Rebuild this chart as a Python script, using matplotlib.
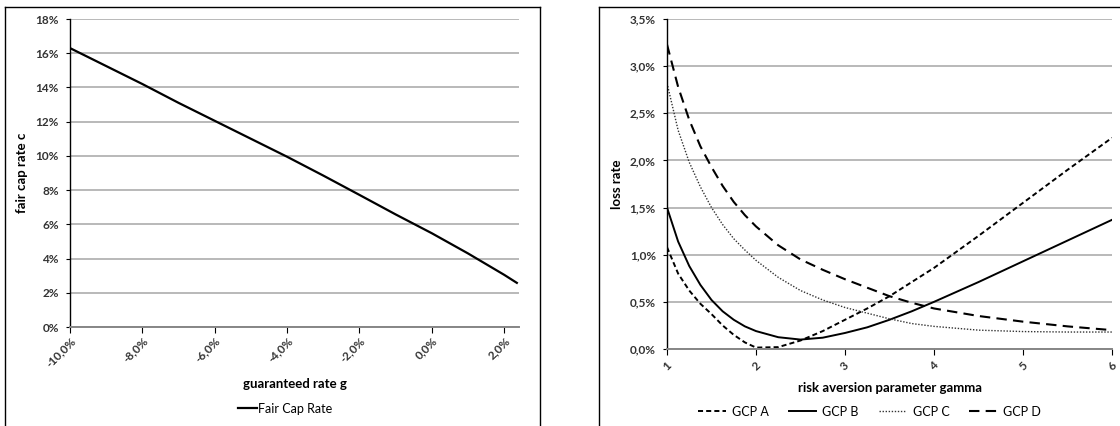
import matplotlib
matplotlib.use("Agg")
import matplotlib.pyplot as plt
from matplotlib.lines import Line2D
from matplotlib.ticker import FuncFormatter, MultipleLocator

plt.rcParams['font.family'] = ['Lato', 'DejaVu Sans']

# fair cap rate vs guaranteed rate (both in %)
guar_rate = [-10, -9, -8, -7, -6, -5, -4, -3, -2, -1, 0, 1, 2, 2.35]
cap_rate = [16.3, 15.25, 14.2, 13.1, 12.05, 11.0, 9.95, 8.85, 7.72, 6.58, 5.48, 4.3, 3.05, 2.58]

# loss rate vs risk aversion gamma (in %)
gamma = [1, 1.125, 1.25, 1.375, 1.5, 1.625, 1.75, 1.875, 2, 2.25, 2.5, 2.75, 3,
         3.25, 3.5, 3.75, 4, 4.5, 5, 5.5, 6]
gcp_a = [1.08, 0.80, 0.62, 0.48, 0.37, 0.25, 0.15, 0.07, 0.015, 0.02, 0.09, 0.19, 0.31,
         0.43, 0.56, 0.71, 0.86, 1.2, 1.55, 1.9, 2.24]
gcp_b = [1.5, 1.14, 0.88, 0.68, 0.52, 0.40, 0.31, 0.24, 0.19, 0.125, 0.10, 0.12, 0.17,
         0.23, 0.31, 0.40, 0.50, 0.71, 0.93, 1.15, 1.37]
gcp_c = [2.82, 2.32, 1.98, 1.72, 1.5, 1.32, 1.17, 1.05, 0.94, 0.76, 0.62, 0.52, 0.44,
         0.38, 0.32, 0.27, 0.24, 0.20, 0.185, 0.18, 0.18]
gcp_d = [3.23, 2.78, 2.43, 2.15, 1.93, 1.73, 1.56, 1.42, 1.30, 1.10, 0.95, 0.84, 0.74,
         0.65, 0.56, 0.49, 0.43, 0.35, 0.29, 0.24, 0.20]

W, H = 1120, 426
fig = plt.figure(figsize=(W / 100, H / 100), dpi=100)


def fx(px):
    return px / W


def fy(py):
    return 1 - py / H


# chart area borders
for xs, ys in [([5, 5], [7, 440]), ([5, 540], [7, 7]), ([540, 540], [7, 440]),
               ([599, 599], [7, 440]), ([599, 1130], [7, 7])]:
    fig.add_artist(Line2D([fx(x) for x in xs], [fy(y) for y in ys],
                          color='black', lw=1.0))

grid_col = '#a6a6a6'


def style_axes(ax):
    ax.grid(axis='y', color=grid_col, lw=1.1)
    ax.set_axisbelow(True)
    for s in ['top', 'right']:
        ax.spines[s].set_visible(False)
    ax.spines['left'].set_color('black')
    ax.spines['left'].set_linewidth(1.0)
    ax.spines['bottom'].set_color('#868686')
    ax.spines['bottom'].set_linewidth(1.4)
    ax.tick_params(axis='y', length=3, width=0.8, color='black', pad=5)
    ax.tick_params(axis='x', length=4, width=0.8, color='black', pad=2)
    for lab in ax.get_xticklabels() + ax.get_yticklabels():
        lab.set_fontweight('bold')
        lab.set_fontsize(8.5)
        lab.set_color('#333333')
    for lab in ax.get_xticklabels():
        lab.set_rotation(45)
        lab.set_ha('right')
        lab.set_rotation_mode('anchor')


# left chart
ax1 = fig.add_axes([fx(70), fy(327), fx(519) - fx(70), fy(19) - fy(327)])
ax1.plot(guar_rate, cap_rate, color='black', lw=1.6, label='Fair Cap Rate')
ax1.set_xlim(-10, 2.41)
ax1.set_ylim(0, 18)
ax1.xaxis.set_major_locator(MultipleLocator(2))
ax1.yaxis.set_major_locator(MultipleLocator(2))
ax1.xaxis.set_major_formatter(FuncFormatter(lambda v, p: f"{v:.1f}%".replace('.', ',')))
ax1.yaxis.set_major_formatter(FuncFormatter(lambda v, p: f"{v:.0f}%"))
style_axes(ax1)
ax1.set_ylabel('fair cap rate c', fontweight='bold', fontsize=9.5, labelpad=5)
ax1.set_xlabel('guaranteed rate g', fontweight='bold', fontsize=9.5, labelpad=6)
ax1.legend(loc='center', bbox_to_anchor=(0.48, -0.265), frameon=False,
           fontsize=9, handlelength=1.5, handletextpad=0.1)

# right chart
ax2 = fig.add_axes([fx(667), fy(349), fx(1112) - fx(667), fy(19) - fy(349)])
ax2.plot(gamma, gcp_a, color='black', lw=1.4, dashes=(2.6, 1.6), label='GCP A')
ax2.plot(gamma, gcp_b, color='black', lw=1.4, label='GCP B')
ax2.plot(gamma, gcp_c, color='#333333', lw=1.0, dashes=(1, 1.2), label='GCP C')
ax2.plot(gamma, gcp_d, color='black', lw=1.5, dashes=(5, 3), label='GCP D')
ax2.set_xlim(1, 6)
ax2.set_ylim(0, 3.5)
ax2.xaxis.set_major_locator(MultipleLocator(1))
ax2.yaxis.set_major_locator(MultipleLocator(0.5))
ax2.xaxis.set_major_formatter(FuncFormatter(lambda v, p: f"{v:.0f}"))
ax2.yaxis.set_major_formatter(FuncFormatter(lambda v, p: f"{v:.1f}%".replace('.', ',')))
style_axes(ax2)
ax2.tick_params(axis='x', pad=8)
for lab in ax2.get_xticklabels():
    lab.set_ha('center')
    lab.set_va('center')
ax2.set_ylabel('loss rate', fontweight='bold', fontsize=9.5, labelpad=5)
ax2.set_xlabel('risk aversion parameter gamma', fontweight='bold', fontsize=9.5, labelpad=7)
ax2.legend(loc='center', bbox_to_anchor=(0.455, -0.19), frameon=False, ncol=4,
           fontsize=9, handlelength=2.2, handletextpad=0.5, columnspacing=1.6)

fig.savefig('out.png', dpi=100)
